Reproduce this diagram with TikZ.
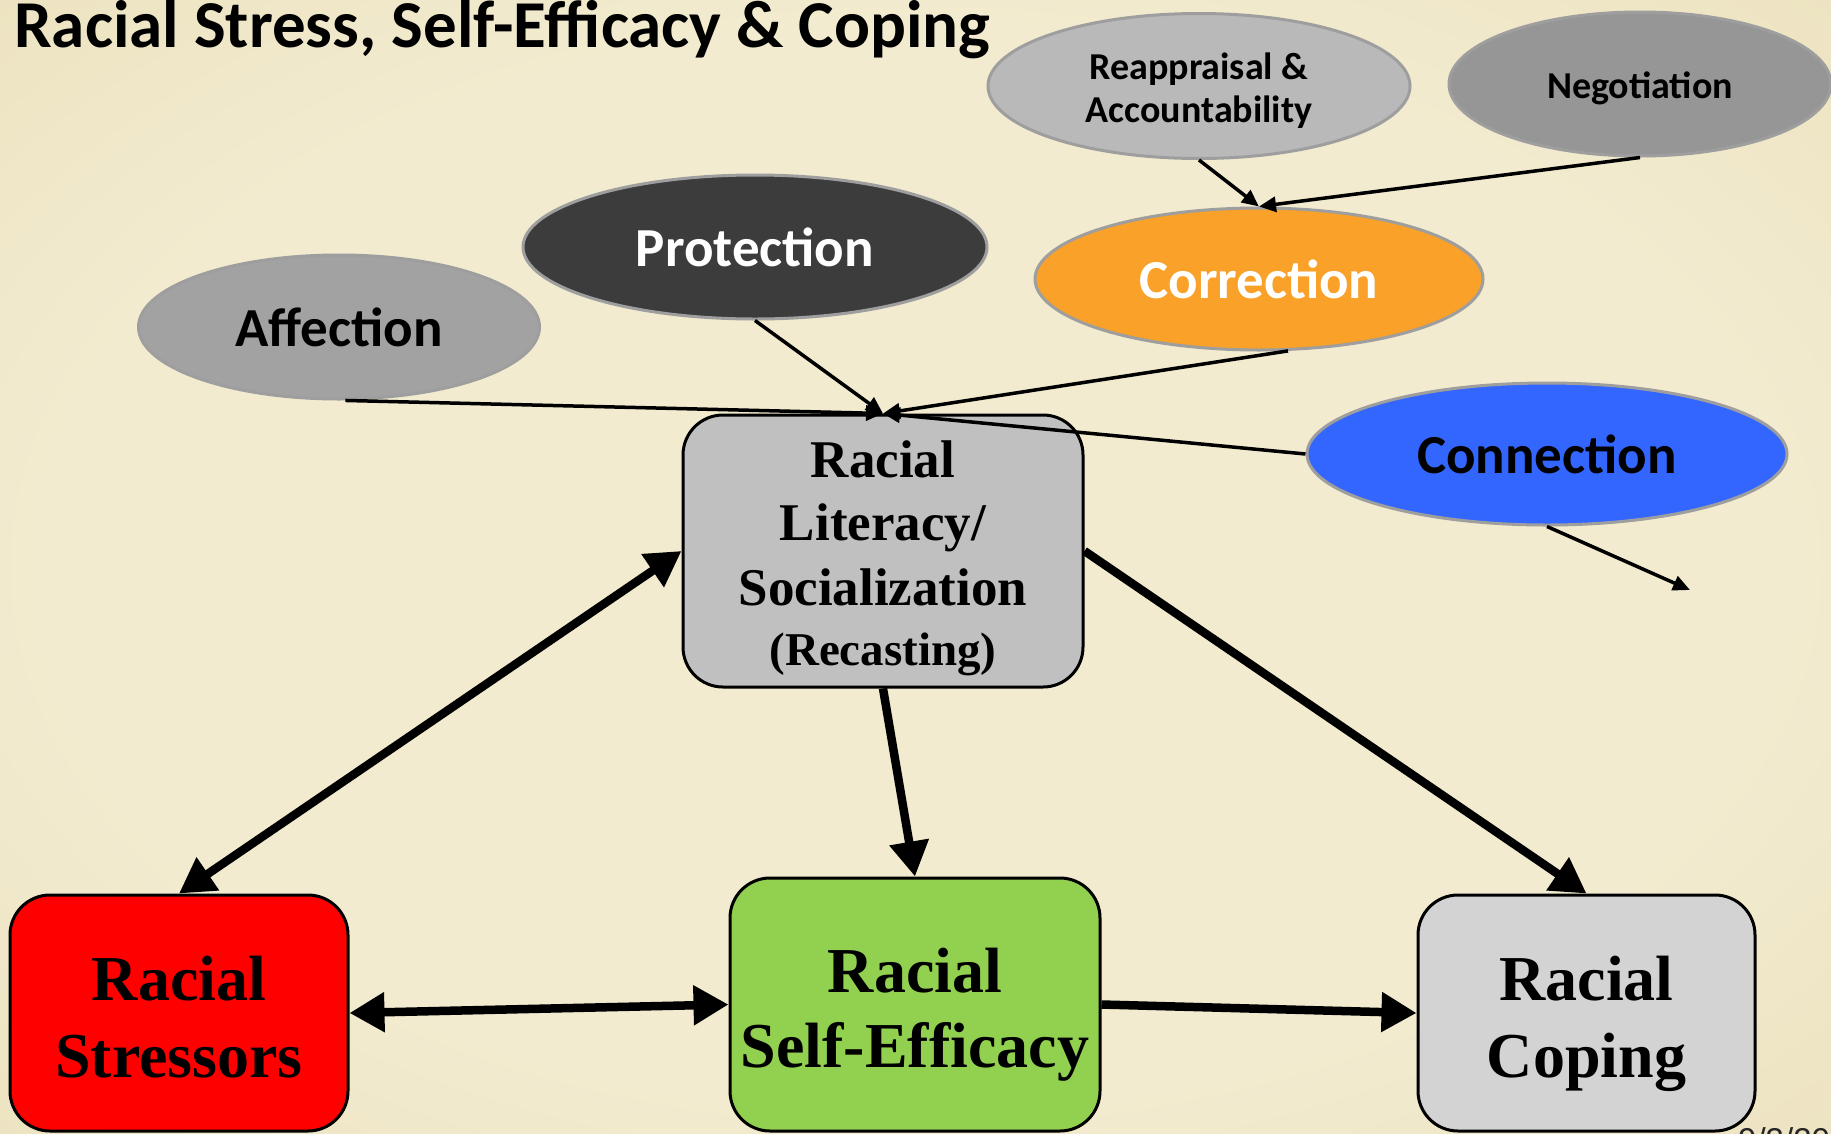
\documentclass[tikz,border=0pt]{standalone}
\usepackage{fontspec}
\setmainfont{Liberation Serif}
\newfontfamily\ovalfont{Carlito}
\newfontfamily\datefont{Liberation Sans}
\usetikzlibrary{shapes.geometric,arrows.meta,calc}

% parchment backdrop
\definecolor{parchIn}{RGB}{242,235,207}
\definecolor{parchMid}{RGB}{235,224,188}
\definecolor{parchOut}{RGB}{218,201,156}
\pgfdeclareradialshading{parchment}{\pgfpoint{0bp}{0bp}}{%
  color(0bp)=(parchIn); color(24bp)=(parchIn); color(40bp)=(parchMid); color(50bp)=(parchOut); color(70bp)=(parchOut)}

% fills
\definecolor{rim}{RGB}{158,158,158}
\definecolor{reappFill}{RGB}{185,185,185}
\definecolor{negoFill}{RGB}{150,150,150}
\definecolor{corrFill}{RGB}{249,161,40}
\definecolor{protFill}{RGB}{60,60,60}
\definecolor{affFill}{RGB}{162,162,162}
\definecolor{connFill}{RGB}{51,102,255}
\definecolor{litFill}{RGB}{192,192,192}
\definecolor{stressFill}{RGB}{255,0,0}
\definecolor{effFill}{RGB}{146,208,80}
\definecolor{copeFill}{RGB}{211,211,211}

\tikzset{
  oval/.style={ellipse, draw=rim, line width=3pt, inner sep=0pt,
    font=\ovalfont\bfseries\fontsize{55}{60}\selectfont},
  smalloval/.style={ellipse, draw=rim, line width=3pt, inner sep=0pt},
  smallword/.style={font=\ovalfont\bfseries\fontsize{38}{43}\selectfont, align=center, inner sep=0pt},
  stagebox/.style={rectangle, rounded corners=40pt, draw=black, line width=3pt, inner sep=0pt},
  bigword/.style={anchor=base, inner sep=0pt, font=\bfseries\fontsize{64}{70}\selectfont},
  litword/.style={anchor=base, inner sep=0pt, font=\bfseries\fontsize{53}{60}\selectfont},
  heavy/.style={line width=8.5pt, -{Triangle[length=35pt,width=38pt]}},
  heavyboth/.style={line width=8.5pt, {Triangle[length=35pt,width=38pt]}-{Triangle[length=35pt,width=38pt]}},
  light/.style={line width=3.5pt, -{Triangle[length=17pt,width=15pt]}},
}

\begin{document}
\begin{tikzpicture}[x=1pt,y=-1pt]
\clip (0,0) rectangle (1831,1133);
\shade[shading=parchment] (0,0) rectangle (1831,1133);

% title
\node[anchor=base west, inner sep=0pt, font=\ovalfont\bfseries\fontsize{67}{72}\selectfont] (title) at (14,47)
  {Racial Stress, Self-Efficacy \& Coping};

% strategy ovals
\node[smalloval, fill=reappFill, minimum width=422pt, minimum height=145pt,
  label={[smallword, yshift=-5pt]center:Reappraisal \&\\Accountability}] (reapp) at (1199,86) {};
\node[smalloval, fill=negoFill, minimum width=382pt, minimum height=144pt,
  label={[smallword, yshift=-4pt]center:Negotiation}] (nego) at (1640,84) {};
\node[oval, fill=corrFill, text=white, minimum width=448pt, minimum height=142pt] (corr) at (1259,279) {Correction};
\node[oval, fill=protFill, text=white, minimum width=464pt, minimum height=144pt] (prot) at (755,247) {Protection};
\node[oval, fill=affFill, minimum width=401pt, minimum height=144pt] (aff) at (339,327) {Affection};
\node[oval, fill=connFill, minimum width=480pt, minimum height=142pt] (conn) at (1547,454) {Connection};

% stage boxes
\node[stagebox, fill=litFill, minimum width=400pt, minimum height=272pt] (lit) at (883,551) {};
\node[stagebox, fill=stressFill, minimum width=338pt, minimum height=236pt] (stress) at (179,1013) {};
\node[stagebox, fill=effFill, minimum width=370pt, minimum height=253pt] (eff) at (915,1004.5) {};
\node[stagebox, fill=copeFill, minimum width=337pt, minimum height=236pt] (cope) at (1586.5,1013) {};

% box captions
\node[litword] (lit1) at (883,477) {Racial};
\node[litword] (lit2) at (883,540) {Literacy/};
\node[litword] (lit3) at (883,605) {Socialization};
\node[litword, font=\bfseries\fontsize{47}{52}\selectfont] (lit4) at (883,665) {(Recasting)};
\node[bigword] (stress1) at (179,1000) {Racial};
\node[bigword] (stress2) at (179,1077) {Stressors};
\node[bigword] (eff1) at (915,992) {Racial};
\node[bigword] (eff2) at (915,1067) {Self-Efficacy};
\node[bigword] (cope1) at (1586.5,1000) {Racial};
\node[bigword] (cope2) at (1586.5,1077) {Coping};

% date stamp, running off the lower edge
\node[anchor=north west, inner sep=0pt, font=\datefont\fontsize{33}{36}\selectfont, text=black!85] (date) at (1738,1127) {9/3/20};

% thin links into the strategies
\coordinate (connEnd) at (1690,590);
\draw[light] (reapp.south) -- (corr.north);
\draw[light] (nego.south) -- (corr.north);
\draw[light] (prot.south) -- (lit.north);
\draw[light] (corr.-68) -- (lit.north);
\draw[light] (aff.-85) -- (lit.north);
\draw[light] (conn.west) -- (lit.north);
\draw[light] (conn.south) -- (connEnd);

% heavy links between stages
\draw[heavyboth] (lit.west) -- (stress.north);
\draw[heavy] (lit.south) -- (eff.north);
\draw[heavy] (lit.east) -- (cope.north);
\draw[heavyboth] (stress.east) -- (eff.west);
\draw[heavy] (eff.east) -- (cope.west);
\end{tikzpicture}
\end{document}
